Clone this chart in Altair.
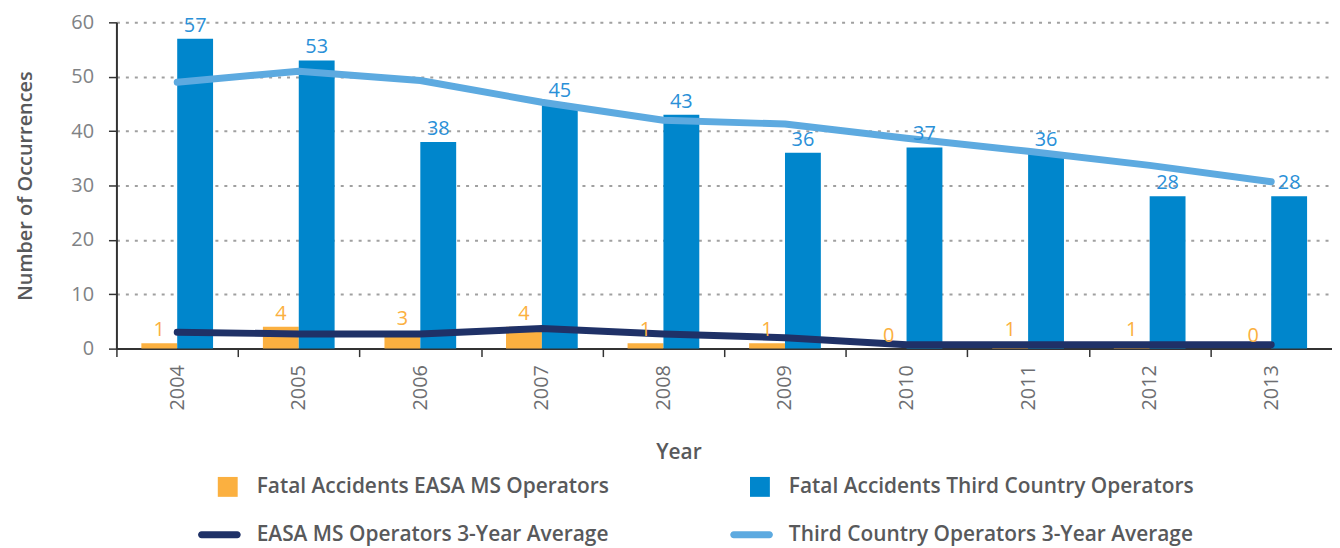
import altair as alt
import pandas as pd

years = ["2004", "2005", "2006", "2007", "2008", "2009", "2010", "2011", "2012", "2013"]
easa_ms = [1, 4, 3, 4, 1, 1, 0, 1, 1, 0]
third_country = [57, 53, 38, 45, 43, 36, 37, 36, 28, 28]
easa_avg = [3.0, 2.7, 2.7, 3.7, 2.7, 2.0, 0.7, 0.7, 0.7, 0.7]
third_avg = [49.0, 51.0, 49.3, 45.3, 42.0, 41.3, 38.7, 36.3, 33.7, 30.7]

S1 = "Fatal Accidents EASA MS Operators"
S2 = "Fatal Accidents Third Country Operators"
S3 = "EASA MS Operators 3-Year Average"
S4 = "Third Country Operators 3-Year Average"
# legend fills column by column, so this order gives rows (S1, S2) and (S3, S4)
series_names = [S1, S3, S2, S4]
series_colors = ["#FBB040", "#1F3167", "#0086CC", "#5DAAE0"]
label_colors = {S1: "#FBB040", S2: "#2A90D8"}

SQUARE = "M-0.1,-0.625H1.15V0.625H-0.1Z"
LINE = "M-1.12,-0.22H1.12A0.22,0.22,0,0,1,1.12,0.22H-1.12A0.22,0.22,0,0,1,-1.12,-0.22Z"
shapes = [SQUARE, LINE, SQUARE, LINE]

bars = pd.DataFrame(
    [{"year": y, "series": S1, "value": v} for y, v in zip(years, easa_ms)]
    + [{"year": y, "series": S2, "value": v} for y, v in zip(years, third_country)]
)
lines = pd.DataFrame(
    [{"year": y, "series": S3, "value": v} for y, v in zip(years, easa_avg)]
    + [{"year": y, "series": S4, "value": v} for y, v in zip(years, third_avg)]
)

FONT = "Open Sans"
W = 1222
H = 328
STEP = W / 10

legend = alt.Legend(
    title=None, orient="none", legendX=87.5, legendY=451, columns=2,
    columnPadding=121, rowPadding=22, symbolSize=1024, symbolStrokeWidth=0,
    symbolOffset=0, labelOffset=21.5, labelFont=FONT, labelFontSize=21,
    labelFontWeight=600, labelColor="#58595B", labelLimit=0, padding=0,
    symbolOpacity=1,
)

x_enc = alt.X(
    "year:N",
    scale=alt.Scale(domain=years, paddingInner=0.41, paddingOuter=0.205),
    axis=alt.Axis(
        title="Year", labelAngle=270, labelFont=FONT, labelFontSize=20,
        labelColor="#6D6E71", labelPadding=8, tickSize=8, tickWidth=1.5,
        tickColor="#333333", domainColor="#333333", domainWidth=2,
        tickOffset=-STEP / 2, labelOffset=STEP / 2,
        titleFont=FONT, titleFontSize=21, titleFontWeight=600,
        titleColor="#58595B", titlePadding=32, titleX=565,
    ),
)
y_enc = alt.Y(
    "value:Q",
    scale=alt.Scale(domain=[0, 60], nice=False),
    axis=alt.Axis(
        title="Number of Occurrences", values=[0, 10, 20, 30, 40, 50, 60],
        labelFont=FONT, labelFontSize=20, labelColor="#808285", labelPadding=15,
        tickSize=8, tickWidth=1.5, tickColor="#333333", domainColor="#333333",
        domainWidth=2, gridDash=[3, 6], gridColor="#A0A0A0", gridWidth=2,
        titleFont=FONT, titleFontSize=20, titleFontWeight=600,
        titleColor="#58595B", titlePadding=36,
    ),
)
color_enc = alt.Color(
    "series:N", scale=alt.Scale(domain=series_names, range=series_colors), legend=legend
)
xoff = alt.XOffset("series:N", scale=alt.Scale(domain=[S1, S2], paddingInner=0, paddingOuter=0))

legend_pts = alt.Chart(bars).transform_filter("false").mark_point(filled=True, opacity=1).encode(
    x=x_enc, y=y_enc, color=color_enc,
    shape=alt.Shape("series:N", scale=alt.Scale(domain=series_names, range=shapes), legend=legend),
)

bar_layer = alt.Chart(bars).mark_bar().encode(x=x_enc, xOffset=xoff, y=y_enc, color=color_enc)

line_layer = alt.Chart(lines).mark_line(
    strokeWidth=7, interpolate="linear", strokeCap="round", strokeJoin="round"
).encode(x=x_enc, y=y_enc, color=color_enc, detail="series:N")

text_layers = []
for s in [S1, S2]:
    text_layers.append(
        alt.Chart(bars).transform_filter(alt.datum.series == s).mark_text(
            font=FONT, fontSize=20, dy=-7, baseline="alphabetic", align="center",
            color=label_colors[s],
        ).encode(x=x_enc, xOffset=xoff, y=y_enc, text="value:Q")
    )

chart = alt.layer(legend_pts, bar_layer, line_layer, *text_layers).properties(
    width=W, height=H, padding={"left": 7, "top": 3, "right": 0, "bottom": 0},
    background="white",
).configure_view(stroke=None)

chart.save("out.html", embed_options={"renderer": "svg", "actions": False})
